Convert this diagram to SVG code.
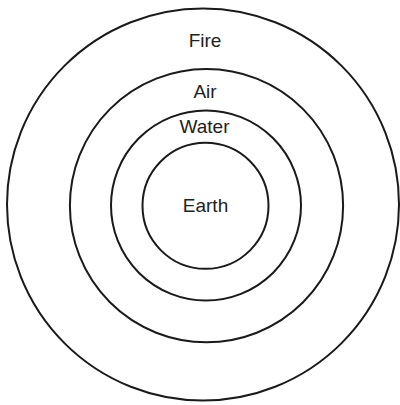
<svg xmlns="http://www.w3.org/2000/svg" width="400" height="405" viewBox="0 0 400 405">
<style>
.ring{fill:none;stroke:#1a1a1a;stroke-width:2}
.lbl{font-family:"Liberation Sans",Arial,sans-serif;font-size:19px;fill:#222;text-anchor:middle}
</style>
<rect width="400" height="405" fill="#fff"/>
<g id="fire"><circle class="ring" cx="203" cy="204.5" r="196"/><text class="lbl" x="205" y="47">Fire</text></g>
<g id="air"><circle class="ring" cx="206.5" cy="205.7" r="136.6"/><text class="lbl" x="205" y="98">Air</text></g>
<g id="water"><circle class="ring" cx="206" cy="205.5" r="95"/><text class="lbl" x="204.5" y="133">Water</text></g>
<g id="earth"><circle class="ring" cx="205.5" cy="205.8" r="63"/><text class="lbl" x="205.5" y="211.5">Earth</text></g>
<g id="connectors"/>
</svg>
